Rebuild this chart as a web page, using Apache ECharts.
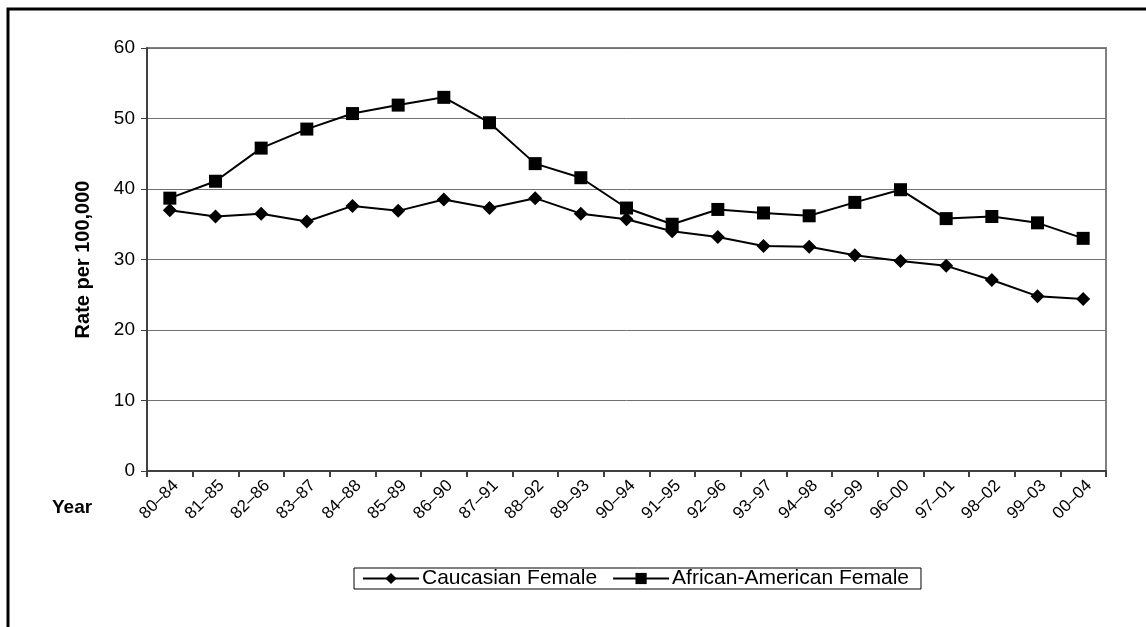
<!DOCTYPE html>
<html>
<head>
<meta charset="utf-8">
<script src="https://cdn.jsdelivr.net/npm/echarts@6/dist/echarts.min.js"></script>
<style>
    html, body { margin: 0; padding: 0; background: #fff; }
    #chart { width: 1146px; height: 627px; }
</style>
</head>
<body>
<div id="chart"></div>
<script>
    // periods on the x axis
    var years = ['80–84', '81–85', '82–86', '83–87', '84–88', '85–89', '86–90', '87–91', '88–92', '89–93',
        '90–94', '91–95', '92–96', '93–97', '94–98', '95–99', '96–00', '97–01', '98–02', '99–03', '00–04'];
    // rate per 100,000
    var caucasian = [37.0, 36.1, 36.5, 35.4, 37.6, 36.9, 38.5, 37.3, 38.7, 36.5,
        35.7, 34.0, 33.2, 31.9, 31.8, 30.6, 29.8, 29.1, 27.1, 24.8, 24.4];
    var african = [38.7, 41.1, 45.8, 48.5, 50.7, 51.9, 53.0, 49.4, 43.6, 41.6,
        37.3, 35.0, 37.1, 36.6, 36.2, 38.1, 39.9, 35.8, 36.1, 35.2, 33.0];

    var font = 'Arial, "Liberation Sans", sans-serif';
    var mychart = echarts.init(document.getElementById('chart'));

    var option = {
        backgroundColor: '#fff',
        animation: false,
        textStyle: { fontFamily: font, color: '#000' },
        graphic: [{
            type: 'rect',
            shape: { x: 8, y: 9, width: 1160, height: 640 },
            style: { fill: 'none', stroke: '#000', lineWidth: 3 },
            silent: true
        }, {
            type: 'text',
            left: 52,
            top: 498,
            style: { text: 'Year', font: 'bold 19px ' + font, fill: '#000' }
        }],
        grid: {
            left: 147, right: 40, top: 48, bottom: 156,
            show: true, borderColor: '#808080', borderWidth: 2
        },
        legend: {
            left: 354, top: 568,
            padding: [0, 12, 0, 8],
            borderColor: '#000', borderWidth: 1,
            itemWidth: 56, itemHeight: 14, itemGap: 15,
            textStyle: { fontSize: 21, fontFamily: font, color: '#000', padding: [0, 0, 0, -2] },
            data: ['Caucasian Female', 'African-American Female']
        },
        xAxis: {
            type: 'category',
            data: years,
            boundaryGap: true,
            axisLine: { lineStyle: { color: '#404040', width: 2 } },
            axisTick: { show: true, length: 6, lineStyle: { color: '#404040', width: 2 } },
            axisLabel: {
                rotate: 45, fontSize: 17, color: '#000', fontFamily: font,
                margin: 6, interval: 0, verticalAlign: 'top'
            }
        },
        yAxis: {
            type: 'value',
            min: 0, max: 60, interval: 10,
            name: 'Rate per 100,000',
            nameLocation: 'middle',
            nameGap: 54,
            nameTextStyle: { fontWeight: 'bold', fontSize: 20, fontFamily: font, color: '#000' },
            axisLine: { show: true, lineStyle: { color: '#404040', width: 2 } },
            axisTick: { show: true, length: 6, lineStyle: { color: '#404040', width: 1 } },
            axisLabel: { fontSize: 19, color: '#000', fontFamily: font, margin: 12 },
            splitLine: { lineStyle: { color: '#707070', width: 1 } }
        },
        series: [{
            name: 'Caucasian Female',
            type: 'line',
            data: caucasian,
            symbol: 'diamond',
            symbolSize: 14,
            itemStyle: { color: '#000' },
            lineStyle: { color: '#000', width: 2 }
        }, {
            name: 'African-American Female',
            type: 'line',
            data: african,
            symbol: 'rect',
            symbolSize: 13,
            itemStyle: { color: '#000' },
            lineStyle: { color: '#000', width: 2 }
        }]
    };

    mychart.setOption(option);
</script>
</body>
</html>
